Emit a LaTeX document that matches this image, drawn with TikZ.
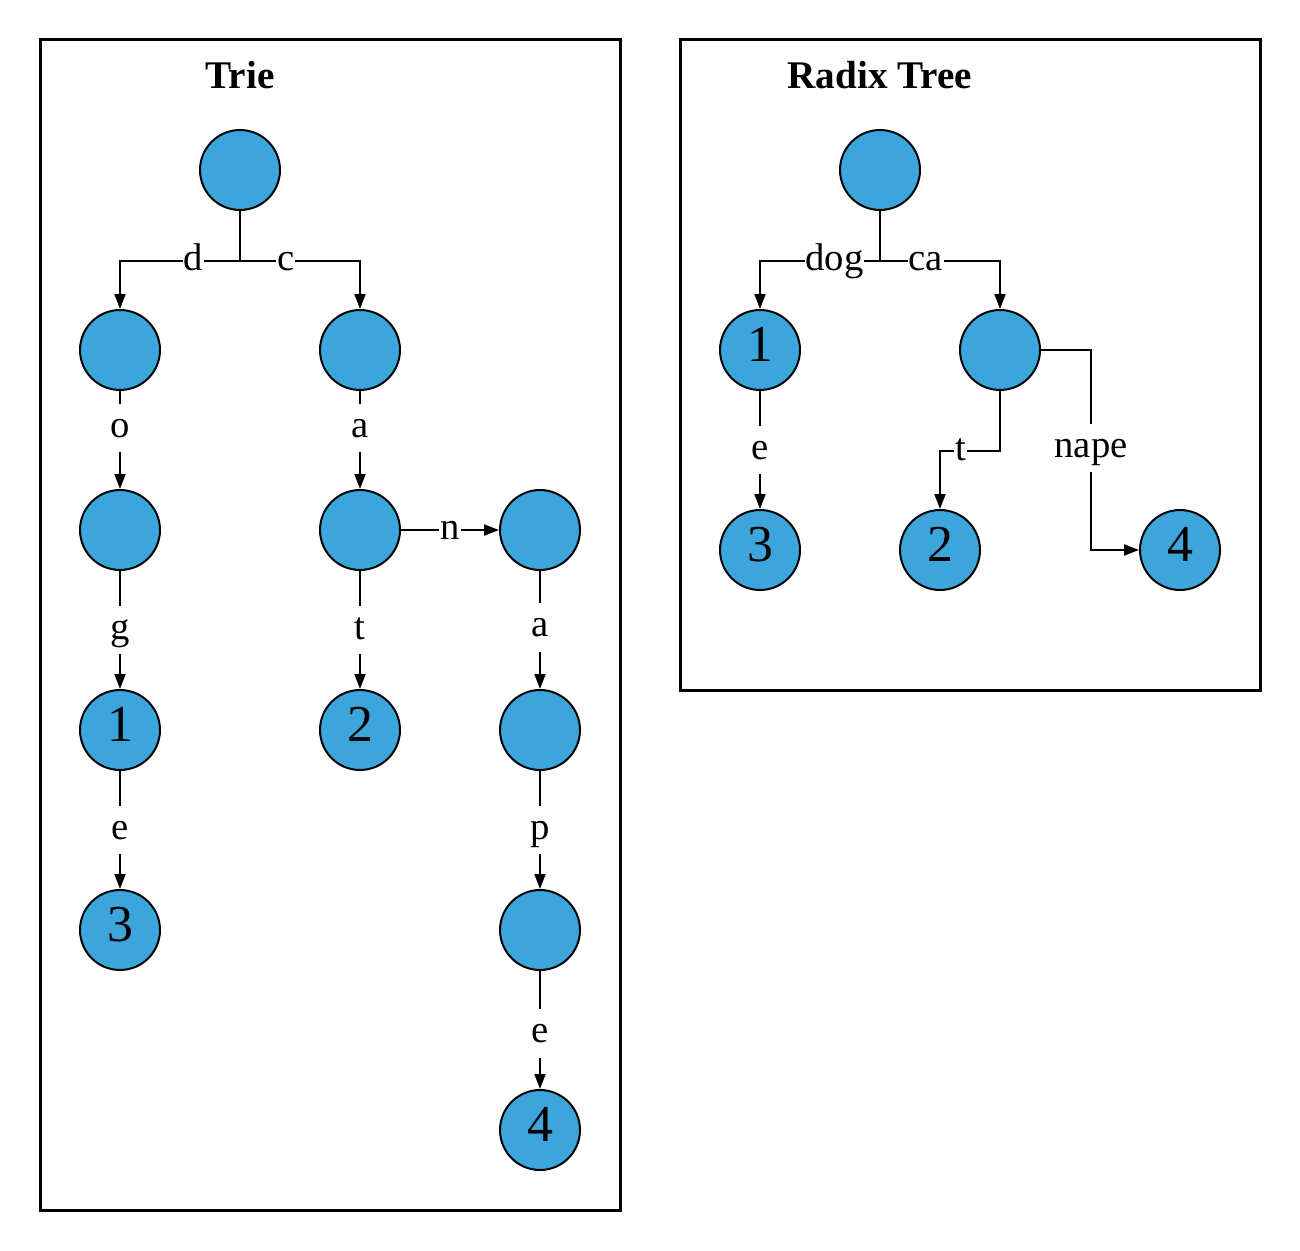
\documentclass[tikz,border=0pt]{standalone}
\usepackage{fontspec}
\setmainfont{Liberation Serif}
\usepackage{xcolor}
\usetikzlibrary{arrows.meta}
\definecolor{nodeblue}{RGB}{60,166,220}

\begin{document}
\begin{tikzpicture}[x=0.02cm, y=-0.02cm, >={Triangle[length=0.3cm,width=0.22cm]},
	vtx/.style={circle, draw=black, line width=0.04cm, fill=nodeblue, minimum size=1.6cm, inner sep=0pt, text height=20pt, text depth=6.8pt, font=\fontsize{29.5}{32}\selectfont},
	lbl/.style={fill=white, inner xsep=0.5pt, inner ysep=0pt, text height=19pt, text depth=8.5pt, font=\fontsize{22}{26}\selectfont},
	edge/.style={->, black, line width=0.04cm},
	frame/.style={draw=black, line width=0.06cm},
	title/.style={font=\bfseries\fontsize{22.3}{26}\selectfont}]
	\useasboundingbox (0,0) rectangle (1300,1250);
	% frames
	\draw[frame] (40,40) rectangle (620,1210);
	\draw[frame] (680,40) rectangle (1260,690);
	\node[title] (ttrie) at (240,75) {Trie};
	\node[title] (tradix) at (880,75) {Radix Tree};
	% trie nodes
	\node[vtx] (t0) at (240,170) {};
	\node[vtx] (td) at (120,350) {};
	\node[vtx] (tc) at (360,350) {};
	\node[vtx] (tdo) at (120,530) {};
	\node[vtx] (tca) at (360,530) {};
	\node[vtx] (tcan) at (540,530) {};
	\node[vtx] (tdog) at (120,730) {1};
	\node[vtx] (tcat) at (360,730) {2};
	\node[vtx] (tcana) at (540,730) {};
	\node[vtx] (tdoge) at (120,930) {3};
	\node[vtx] (tcanap) at (540,930) {};
	\node[vtx] (tcanape) at (540,1130) {4};
	% trie edges
	\draw[edge] (t0.south) -- ++(0,50) coordinate (tj) -| node[lbl, pos=0.195] {d} (td.north);
	\draw[edge] (tj) -| node[lbl, pos=0.19] {c} (tc.north);
	\draw[edge] (td) -- node[lbl, pos=0.38] {o} (tdo);
	\draw[edge] (tc) -- node[lbl, pos=0.38] {a} (tca);
	\draw[edge] (tca) -- node[lbl] {n} (tcan);
	\draw[edge] (tdo) -- node[lbl] {g} (tdog);
	\draw[edge] (tca) -- node[lbl] {t} (tcat);
	\draw[edge] (tcan) -- node[lbl, pos=0.48] {a} (tcana);
	\draw[edge] (tdog) -- node[lbl] {e} (tdoge);
	\draw[edge] (tcana) -- node[lbl] {p} (tcanap);
	\draw[edge] (tcanap) -- node[lbl, pos=0.53] {e} (tcanape);
	% radix tree nodes
	\node[vtx] (r0) at (880,170) {};
	\node[vtx] (rdog) at (760,350) {1};
	\node[vtx] (rca) at (1000,350) {};
	\node[vtx] (rdoge) at (760,550) {3};
	\node[vtx] (rcat) at (940,550) {2};
	\node[vtx] (rcanape) at (1180,550) {4};
	% radix tree edges
	\draw[edge] (r0.south) -- ++(0,50) coordinate (rj) -| node[lbl, pos=0.19] {dog} (rdog.north);
	\draw[edge] (rj) -| node[lbl, pos=0.19] {ca} (rca.north);
	\draw[edge] (rdog) -- node[lbl] {e} (rdoge);
	\draw[edge] (rca.south) -- ++(0,60) -| node[lbl, pos=0.33] {t} (rcat.north);
	\draw[edge] (rca.east) -- ++(50,0) |- node[lbl, pos=0.245] {nape} (rcanape.west);
\end{tikzpicture}
\end{document}
